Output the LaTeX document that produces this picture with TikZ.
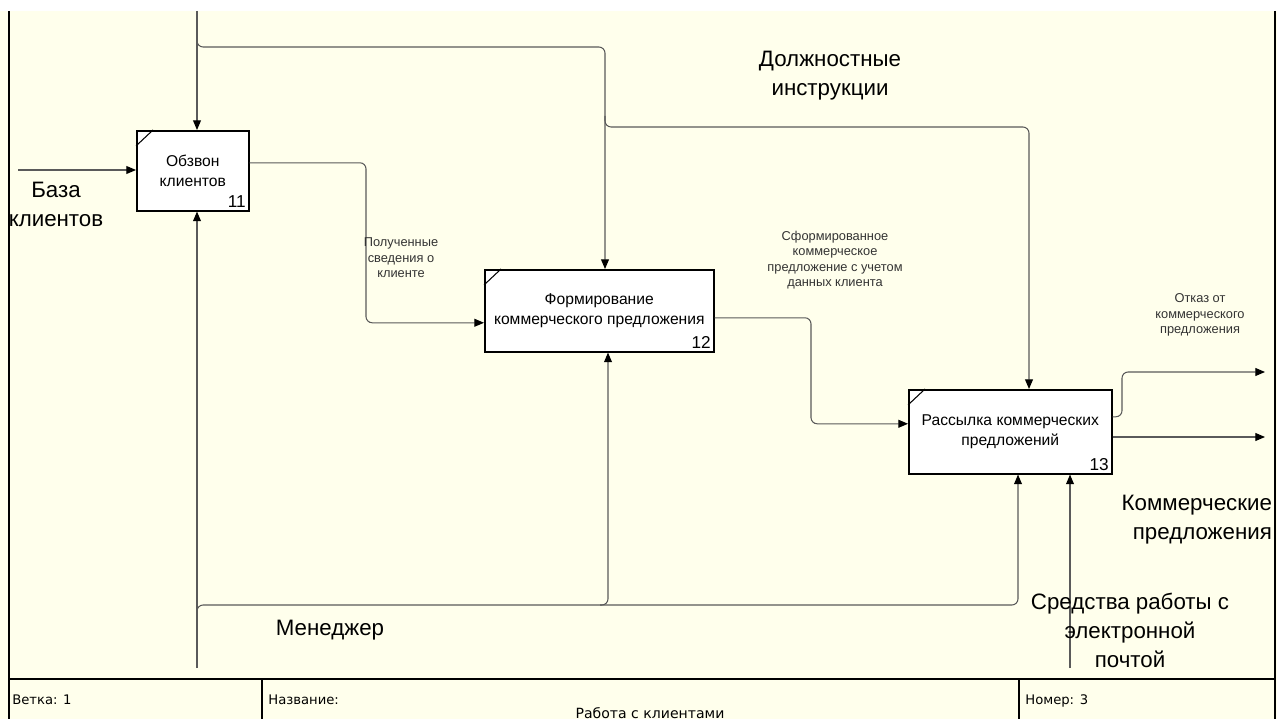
\documentclass[tikz,border=0pt]{standalone}
\usepackage{fontspec}
\setmainfont{Liberation Sans}
\newfontfamily\footfont{DejaVu Sans}
\usetikzlibrary{arrows.meta,positioning}
\definecolor{paper}{RGB}{255,255,236}
\definecolor{wire}{RGB}{90,90,90}
\begin{document}
\begin{tikzpicture}[x=0.02cm,y=-0.02cm]
\tikzset{
  wire/.style={draw=wire,line width=0.6pt,rounded corners=3.5pt},
  flow/.style={wire,-{Triangle[length=5.5pt,width=4.5pt,color=black]}},
  funcbox/.style={draw,line width=0.9pt,fill=white,anchor=north west,align=center,inner sep=1pt,font=\fontsize{8.9}{11.5}\selectfont},
  biglabel/.style={align=center,font=\fontsize{12.7}{16.5}\selectfont},
  smalllabel/.style={align=center,text=black!80,font=\fontsize{7.3}{8.8}\selectfont},
  foottext/.style={anchor=base west,inner sep=0pt,font=\footfont\fontsize{7.5}{9}\selectfont}
}
\fill[paper] (0,11) rectangle (1277,719);
\useasboundingbox (0,0) rectangle (1277,719);
% frame
\draw[line width=1.1pt] (9,11) -- (9,719) (1275,11) -- (1275,719) (9,679) -- (1275,679)
  (262,679) -- (262,719) (1019,679) -- (1019,719);
% activities
\node[funcbox,minimum width=2.24cm,minimum height=1.6cm] (A11) at (136,130) {Обзвон\\клиентов};
\node[funcbox,minimum width=4.58cm,minimum height=1.64cm] (A12) at (484,269) {Формирование\\коммерческого предложения};
\node[funcbox,minimum width=4.06cm,minimum height=1.68cm] (A13) at (908,389) {Рассылка коммерческих\\предложений};
\foreach \b/\n in {A11/11,A12/12,A13/13}{
  \node[anchor=south east,inner sep=2pt,font=\fontsize{9.8}{11}\selectfont] (n\n) at (\b.south east) {\n};
  \draw[line width=0.6pt] ([yshift=-0.32cm]\b.north west) -- ([xshift=0.34cm]\b.north west);
}
% controls
\coordinate (ctl) at (197,11);
\coordinate (c1) at (605,47);
\coordinate (c2) at (1029,127);
\draw[flow] (ctl) -- (A11.north -| ctl);
\draw[flow] (197,36) |- (c1) -- (A12.north -| c1);
\draw[flow] (605,116) |- (c2) -- (A13.north -| c2);
% inputs
\coordinate (db) at (18,170);
\coordinate (k1) at (366,240);
\coordinate (k2) at (811,370);
\draw[flow] (db) -- (A11.west |- db);
\draw[flow] ([yshift=0.16cm]A11.east) -| (k1) |- ([yshift=-0.24cm]A12.west);
\draw[flow] ([yshift=-0.14cm]A12.east) -| (k2) |- ([yshift=0.16cm]A13.west);
% outputs
\coordinate (refuse) at (1265,372);
\coordinate (offers) at (1265,437);
\coordinate (k3) at (1122,395);
\draw[flow] ([yshift=0.3cm]A13.east) -| (k3) |- (refuse);
\draw[flow] (A13.east |- offers) -- (offers);
% mechanisms
\coordinate (mgr) at (197,668);
\coordinate (m1) at (608,605);
\coordinate (m2) at (1018,605);
\coordinate (mail) at (1070,668);
\draw[flow] (mgr) -- (A11.south -| mgr);
\draw[flow] (197,616) |- (m1) -- (A12.south -| m1);
\draw[flow] (600,605) -- (m2) -- (A13.south -| m2);
\draw[flow] (mail) -- (A13.south -| mail);
% labels
\node[biglabel] (lblDB) at (56,204) {База\\клиентов};
\node[biglabel] (lblRules) at (830,76) {Должностные\\инструкции};
\node[biglabel,align=right,anchor=east,inner sep=1pt] (lblOffers) at (1274,520) {Коммерческие\\предложения};
\node[biglabel] (lblMgr) at (330,630) {Менеджер};
\node[biglabel] (lblMail) at (1130,630) {Средства работы с\\электронной\\почтой};
\node[smalllabel] (lblInfo) at (401,258) {Полученные\\сведения о\\клиенте};
\node[smalllabel] (lblDraft) at (835,260) {Сформированное\\коммерческое\\предложение с учетом\\данных клиента};
\node[smalllabel] (lblRefuse) at (1200,315) {Отказ от\\коммерческого\\предложения};
% footer
\node[foottext] (branch) at (12,704) {Ветка: 1};
\node[foottext] (title) at (268,704) {Название:};
\node[foottext] (num) at (1025,704) {Номер: 3};
\node[anchor=base,font=\footfont\fontsize{8}{9}\selectfont] (name) at (650,718) {Работа с клиентами};
\end{tikzpicture}
\end{document}
